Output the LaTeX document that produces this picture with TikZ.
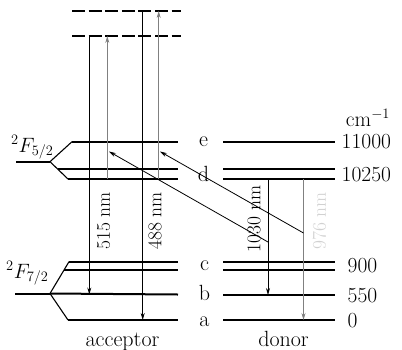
\documentclass[tikz,border=0pt]{standalone}
\usetikzlibrary{arrows.meta}
\begin{document}
\begin{tikzpicture}[x=1pt,y=-1pt,
  level/.style={line width=2pt},
  branch/.style={line width=1.1pt},
  dashlvl/.style={line width=1.7pt,dash pattern=on 13pt off 3.6pt},
  trans/.style={line width=0.8pt,-{Stealth[length=7pt,width=4pt]}},
  lbl/.style={font=\fontsize{22}{26}\selectfont,inner sep=0pt},
  nlbl/.style={font=\fontsize{21.5}{25}\selectfont,inner sep=0pt},
  flbl/.style={font=\fontsize{20.5}{24}\selectfont,inner sep=0pt},
  rlbl/.style={font=\fontsize{19.5}{22}\selectfont,inner sep=0pt,rotate=90}]
\useasboundingbox (0,0) rectangle (402,349);
\definecolor{midgray}{gray}{0.5}
\definecolor{lightgray}{gray}{0.82}
% virtual levels
\coordinate (v1l) at (72,11);  \coordinate (v1r) at (181,11);
\coordinate (v2l) at (72,36);  \coordinate (v2r) at (181,36);
\draw[dashlvl] (v1l) -- (v1r);
\draw[dashlvl] (v2l) -- (v2r);
% acceptor 2F5/2
\coordinate (fu) at (50,161.7);
\coordinate (su) at (16,161.7);
\coordinate (ae1) at (72,141.7); \coordinate (ae2) at (178,141.7);
\coordinate (ad1) at (57.5,169); \coordinate (ad2) at (178,169);
\coordinate (ad3) at (68,179); \coordinate (ad4) at (178,179);
\draw[level] (su) -- (fu);
\draw[branch] (fu) -- (ae1);
\draw[branch] (fu) -- (ad3);
\draw[level] (ae1) -- (ae2);
\draw[level] (ad1) -- (ad2);
\draw[level] (ad3) -- (ad4);
% acceptor 2F7/2
\coordinate (fl) at (50,293.5);
\coordinate (sl) at (15,293.5);
\coordinate (ac1) at (69,261.7); \coordinate (ac2) at (178,261.7);
\coordinate (ac3) at (64,270); \coordinate (ac4) at (178,270);
\coordinate (ab2) at (178,294.5);
\coordinate (aa1) at (68,320); \coordinate (aa2) at (178,320);
\draw[level] (sl) -- (fl);
\draw[branch] (fl) -- (ac1);
\draw[branch] (fl) -- (aa1);
\draw[level] (ac1) -- (ac2);
\draw[level] (ac3) -- (ac4);
\draw[level] (fl) -- (ab2);
\draw[level] (aa1) -- (aa2);
% donor levels
\coordinate (de1) at (223,141.7); \coordinate (de2) at (335,141.7);
\coordinate (dd1) at (223,169);   \coordinate (dd2) at (335,169);
\coordinate (dd3) at (223,179);   \coordinate (dd4) at (335,179);
\coordinate (dc1) at (223,261.5); \coordinate (dc2) at (335,261.5);
\coordinate (dc3) at (223,269.5); \coordinate (dc4) at (335,269.5);
\coordinate (db1) at (223,295);   \coordinate (db2) at (335,295);
\coordinate (da1) at (223,320);   \coordinate (da2) at (335,320);
\foreach \p/\q in {de1/de2,dd1/dd2,dd3/dd4,dc1/dc2,dc3/dc4,db1/db2,da1/da2}
  \draw[level] (\p) -- (\q);
% acceptor transitions
\coordinate (t1a) at (89.3,36);  \coordinate (t1b) at (89.3,294.5);
\coordinate (t2a) at (107.3,179); \coordinate (t2b) at (107.3,36);
\coordinate (t3a) at (142.7,11); \coordinate (t3b) at (142.7,320);
\coordinate (t4a) at (158.7,179); \coordinate (t4b) at (158.7,11);
\draw[trans] (t1a) -- (t1b);
\draw[trans,midgray] (t2a) -- (t2b);
\draw[trans] (t3a) -- (t3b);
\draw[trans,midgray] (t4a) -- (t4b);
% donor transitions
\coordinate (t5a) at (268,179); \coordinate (t5b) at (268,295);
\coordinate (t6a) at (303.5,179); \coordinate (t6b) at (303.5,320);
\draw[trans] (t5a) -- (t5b);
\draw[trans,midgray] (t6a) -- (t6b);
% energy transfer
\coordinate (et1s) at (268,242); \coordinate (et1e) at (109,151.5);
\coordinate (et2s) at (303.5,233); \coordinate (et2e) at (160,151.5);
\draw[trans] (et1s) -- (et1e);
\draw[trans] (et2s) -- (et2e);
% rotated labels
\node[rlbl] (l515) at (103.5,221) {515 nm};
\node[rlbl] (l488) at (155,221) {488 nm};
\node[rlbl] (l1030) at (254,219) {1030 nm};
\node[rlbl,text=lightgray] (l976) at (319.5,221) {976 nm};
% term labels
\node[flbl,anchor=base west] (F52) at (11,152) {$^{2}F_{5/2}$};
\node[flbl,anchor=base west] (F72) at (6,278) {$^{2}F_{7/2}$};
% level letters
\node[lbl] (le) at (203.5,141.5) {e};
\node[lbl] (ld) at (203.5,174) {d};
\node[lbl] (lc) at (204.5,265.5) {c};
\node[lbl] (lb) at (204.5,293) {b};
\node[lbl] (la) at (204.5,321.5) {a};
% energies
\node[nlbl] (cm) at (368,118) {cm$^{-1}$};
\node[nlbl,anchor=west] (n11000) at (341.5,141.5) {11000};
\node[nlbl,anchor=west] (n10250) at (341.5,174.5) {10250};
\node[nlbl,anchor=west] (n900) at (347.5,265.5) {900};
\node[nlbl,anchor=west] (n550) at (347.5,295.5) {550};
\node[nlbl,anchor=west] (n0) at (347.5,320.5) {0};
% species
\node[lbl,anchor=base] (acc) at (122.5,346) {acceptor};
\node[lbl,anchor=base] (don) at (283.5,346) {donor};
\end{tikzpicture}
\end{document}
